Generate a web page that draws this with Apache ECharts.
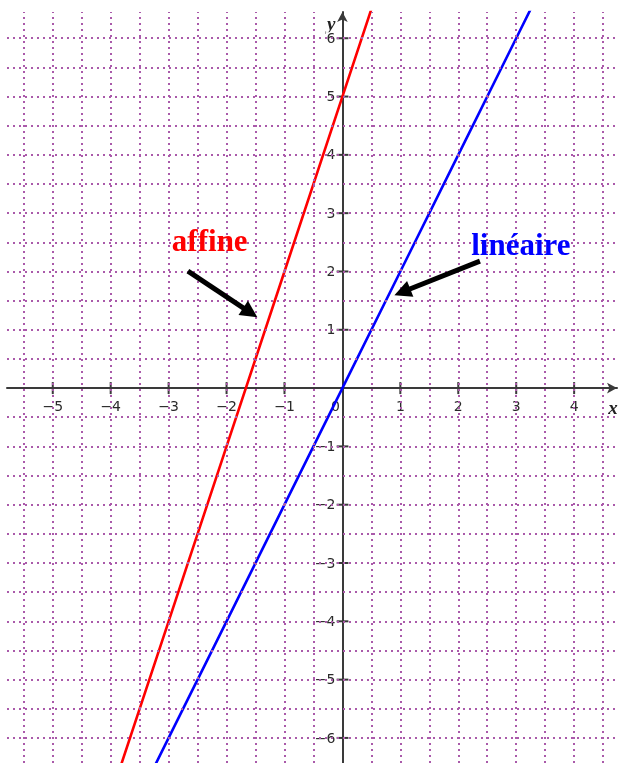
<!DOCTYPE html>
<html><head><meta charset="utf-8">
<script src="https://cdn.jsdelivr.net/npm/echarts@6/dist/echarts.min.js"></script>
<style>html,body{margin:0;padding:0;background:#fff}#c{width:619px;height:763px}</style>
</head><body><div id="c"></div>
<script>
// tick values
const xTickValues = [-5, -4, -3, -2, -1, 1, 2, 3, 4];
const xLabelValues = [-5, -4, -3, -2, -1, 0, 1, 2, 3, 4];
const yTickValues = [-6, -5, -4, -3, -2, -1, 1, 2, 3, 4, 5, 6];
// dotted grid lines (every 0.5)
const gridX = [-5.5, -5, -4.5, -4, -3.5, -3, -2.5, -2, -1.5, -1, -0.5, 0.5, 1, 1.5, 2, 2.5, 3, 3.5, 4, 4.5];
const gridY = [-6, -5.5, -5, -4.5, -4, -3.5, -3, -2.5, -2, -1.5, -1, -0.5, 0.5, 1, 1.5, 2, 2.5, 3, 3.5, 4, 4.5, 5, 5.5, 6];
// affine line points
const affineX = [-4, -3, -2, -1, 0, 1];
const affineY = [-7, -4, -1, 2, 5, 8];
// linear line points
const lineaireX = [-4, -3, -2, -1, 0, 1, 2, 3, 4];
const lineaireY = [-8, -6, -4, -2, 0, 2, 4, 6, 8];
// annotation labels
const labels = ['affine', 'linéaire'];

const fmt = v => v < 0 ? '\u2212' + (-v) : String(v);
const chart = echarts.init(document.getElementById('c'), null, {renderer: 'canvas'});
const tickColor = '#3a3a3a';
const numFont = {fontFamily: 'DejaVu Sans', fontSize: 14, color: '#2a2a2a', backgroundColor: '#fff', padding: [0, 1]};
chart.setOption({
  animation: false,
  backgroundColor: '#fff',
  grid: {left: 7, right: 2, top: 12, bottom: 0, containLabel: false, outerBoundsMode: 'none'},
  xAxis: {
    type: 'value', min: -5.79, max: 4.74, z: 1,
    name: 'x', nameLocation: 'end', nameGap: -4,
    nameTextStyle: {fontFamily: 'Liberation Serif', fontStyle: 'italic', fontWeight: 'bold', fontSize: 19, color: '#222', align: 'center', verticalAlign: 'top', padding: [12, 0, 0, 0]},
    axisLine: {onZero: true, lineStyle: {color: tickColor, width: 2}, symbol: ['none', 'arrow'], symbolSize: [8, 10]},
    axisTick: {show: false},
    splitLine: {show: false},
    axisLabel: {show: false}
  },
  yAxis: {
    type: 'value', min: -6.43, max: 6.45, z: 1,
    name: 'y', nameLocation: 'end', nameGap: -13,
    nameTextStyle: {fontFamily: 'Liberation Serif', fontStyle: 'italic', fontWeight: 'bold', fontSize: 19, color: '#222', align: 'right', verticalAlign: 'middle', padding: [0, 7, 0, 0]},
    axisLine: {onZero: true, lineStyle: {color: tickColor, width: 2}, symbol: ['none', 'arrow'], symbolSize: [8, 10]},
    axisTick: {show: false},
    splitLine: {show: false},
    axisLabel: {show: false}
  },
  series: [
    {
      type: 'line', data: [], z: 0, silent: true,
      markLine: {
        silent: true, symbol: 'none', label: {show: false}, animation: false,
        lineStyle: {color: '#aa5aaa', width: 2, type: [2, 4]},
        emphasis: {disabled: true},
        data: gridX.map(v => ({xAxis: v})).concat(gridY.map(v => ({yAxis: v})))
      }
    },
    {
      type: 'scatter', z: 2, silent: true, symbol: 'rect', symbolSize: [2, 12],
      itemStyle: {color: tickColor, opacity: 1},
      data: xTickValues.map(v => [v, 0])
    },
    {
      type: 'scatter', z: 2, silent: true, symbol: 'rect', symbolSize: [12, 2],
      itemStyle: {color: tickColor, opacity: 1},
      data: yTickValues.map(v => [0, v])
    },
    {
      type: 'scatter', z: 2, silent: true, symbolSize: 0,
      itemStyle: {opacity: 1},
      label: Object.assign({show: true, position: 'inside', align: 'center', verticalAlign: 'middle', offset: [0, 19],
        formatter: p => fmt(p.value[0])}, numFont),
      data: xLabelValues.map(v => v === 0 ? {value: [v, 0], label: {offset: [-7, 19]}} : {value: [v, 0]})
    },
    {
      type: 'scatter', z: 2, silent: true, symbolSize: 0,
      itemStyle: {opacity: 1},
      label: Object.assign({show: true, position: 'inside', align: 'right', verticalAlign: 'middle', offset: [-6, 1],
        formatter: p => fmt(p.value[1])}, numFont),
      data: yTickValues.map(v => [0, v])
    },
    {
      type: 'line', z: 3, showSymbol: false, clip: true,
      lineStyle: {color: '#ff0000', width: 2.6},
      data: affineX.map((x, i) => [x, affineY[i]])
    },
    {
      type: 'line', z: 3, showSymbol: false, clip: true,
      lineStyle: {color: '#0000ff', width: 2.6},
      data: lineaireX.map((x, i) => [x, lineaireY[i]])
    },
    {
      type: 'line', data: [], z: 4, silent: true,
      markLine: {
        silent: true, symbol: ['none', 'triangle'], symbolSize: [17, 17], label: {show: false},
        lineStyle: {color: '#000', width: 5, type: 'solid'},
        emphasis: {disabled: true},
        data: [
          [{coord: [-2.667, 2.007]}, {coord: [-1.59, 1.294]}],
          [{coord: [2.374, 2.178]}, {coord: [1.034, 1.647]}]
        ]
      }
    },
    {
      type: 'scatter', z: 5, silent: true, symbolSize: 0,
      itemStyle: {opacity: 1},
      label: {
        show: true, position: 'inside',
        fontFamily: 'Liberation Serif', fontWeight: 'bold', fontSize: 31,
        formatter: p => p.name
      },
      data: [
        {name: labels[0], value: [-2.29, 2.49], label: {color: '#ff0000'}},
        {name: labels[1], value: [3.08, 2.42], label: {color: '#0000ff'}}
      ]
    }
  ]
});
</script></body></html>
